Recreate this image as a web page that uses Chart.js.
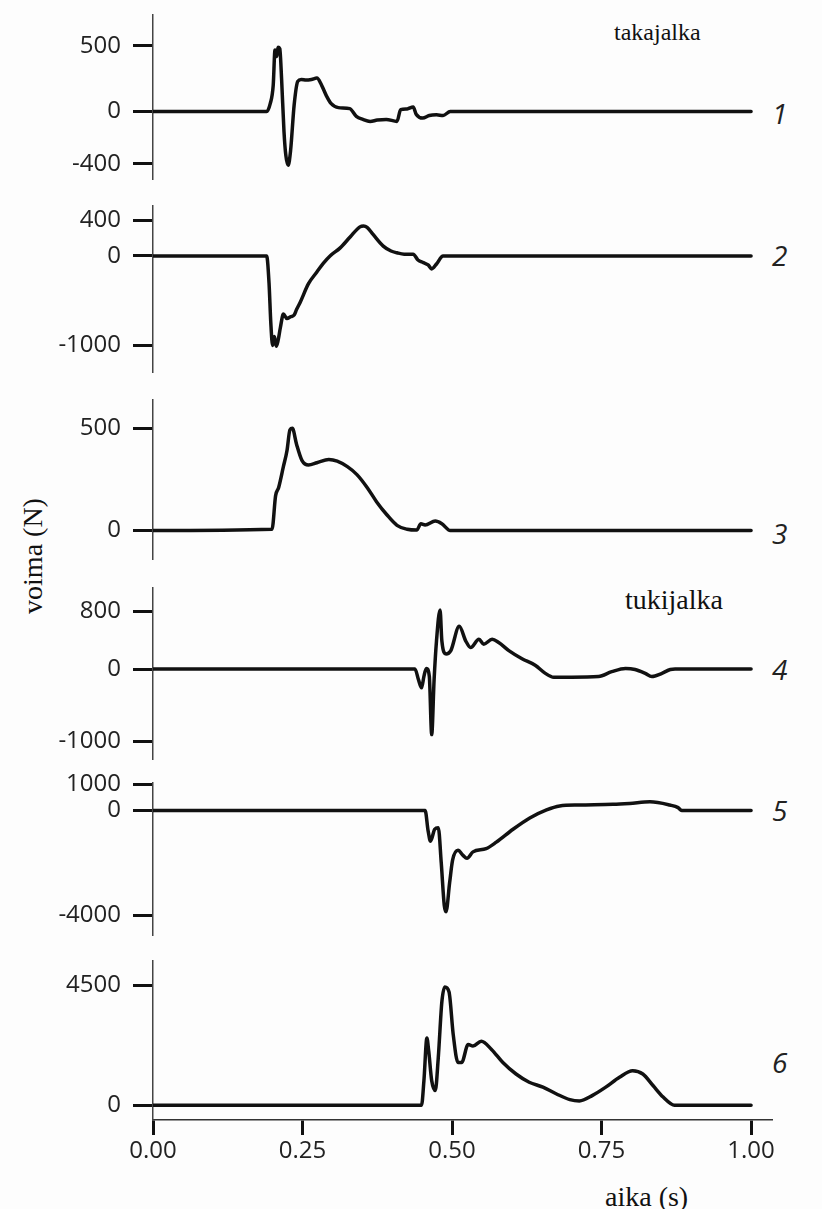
<!DOCTYPE html>
<html>
<head>
<meta charset="utf-8">
<script src="https://cdn.jsdelivr.net/npm/chart.js@4.4.1/dist/chart.umd.min.js"></script>
<style>
  body { margin: 0; background: #fdfdfd; }
  #wrap { position: relative; width: 822px; height: 1209px; overflow: hidden; }
  .panel { position: absolute; left: 0; width: 822px; }
  .lbl { position: absolute; white-space: nowrap; color: #111; line-height: 1; }
  .serif { font-family: "Liberation Serif", "DejaVu Serif", serif; }
  .num { font-family: "Open Sans", sans-serif; font-style: italic; font-size: 28px; color: #222; }
</style>
</head>
<body>
<div id="wrap">
  <div class="lbl serif" style="left:614px;top:20px;font-size:24px;">takajalka</div>
  <div class="lbl serif" style="left:625px;top:586px;font-size:28px;">tukijalka</div>
  <div class="lbl serif" style="left:33px;top:556px;font-size:28px;transform:translate(-50%,-50%) rotate(-90deg);">voima (N)</div>
  <div class="lbl serif" style="left:605px;top:1183px;font-size:28px;">aika (s)</div>
  <div class="lbl num" style="left:772px;top:99px;">1</div>
  <div class="lbl num" style="left:772px;top:241px;">2</div>
  <div class="lbl num" style="left:772px;top:519px;">3</div>
  <div class="lbl num" style="left:772px;top:655px;">4</div>
  <div class="lbl num" style="left:772px;top:796px;">5</div>
  <div class="lbl num" style="left:772px;top:1048px;">6</div>
</div>
<script>
// time axis (s)
const timeTicks = [0, 0.25, 0.5, 0.75, 1.0];

// 1 - takajalka
const time1 = [0, 0.19, 0.196, 0.201, 0.204, 0.207, 0.209, 0.212, 0.215, 0.219, 0.222, 0.226, 0.23, 0.236, 0.242, 0.248, 0.256, 0.265, 0.274, 0.282, 0.29, 0.298, 0.31, 0.329, 0.34, 0.351, 0.363, 0.375, 0.39, 0.408, 0.414, 0.425, 0.435, 0.44, 0.451, 0.462, 0.474, 0.485, 0.497, 1.0];
const force1 = [0, 0, 60, 200, 470, 420, 490, 480, 250, -150, -330, -410, -300, 50, 230, 245, 240, 245, 255, 200, 120, 60, 30, 22, -37, -60, -75, -65, -60, -75, 15, 20, 35, -20, -50, -30, -25, -30, 0, 0];
const ticks1 = [-400, 0, 500];

// 2
const time2 = [0, 0.19, 0.194, 0.197, 0.2, 0.203, 0.206, 0.209, 0.213, 0.218, 0.224, 0.23, 0.236, 0.24, 0.246, 0.26, 0.274, 0.285, 0.296, 0.313, 0.33, 0.346, 0.352, 0.358, 0.368, 0.385, 0.398, 0.408, 0.42, 0.435, 0.443, 0.452, 0.46, 0.466, 0.474, 0.485, 1.0];
const force2 = [0, 0, -300, -750, -1000, -900, -1010, -950, -800, -650, -700, -680, -660, -600, -520, -310, -180, -80, 0, 90, 215, 325, 335, 320, 240, 110, 55, 35, 20, 20, -45, -75, -100, -145, -90, 0, 0];
const ticks2 = [-1000, 0, 400];

// 3
const time3 = [0, 0.199, 0.205, 0.21, 0.218, 0.224, 0.229, 0.233, 0.24, 0.249, 0.26, 0.274, 0.294, 0.308, 0.325, 0.341, 0.358, 0.374, 0.391, 0.408, 0.425, 0.441, 0.448, 0.455, 0.472, 0.483, 0.497, 1.0];
const force3 = [0, 6, 171, 210, 313, 391, 494, 501, 423, 344, 321, 332, 348, 340, 313, 274, 211, 140, 77, 25, 6, 2, 33, 27, 46, 33, 0, 0];
const ticks3 = [0, 500];

// 4 - tukijalka
const time4 = [0, 0.438, 0.444, 0.449, 0.453, 0.457, 0.462, 0.466, 0.47, 0.474, 0.48, 0.483, 0.49, 0.498, 0.512, 0.523, 0.531, 0.545, 0.553, 0.567, 0.578, 0.595, 0.617, 0.639, 0.656, 0.67, 0.7, 0.745, 0.767, 0.79, 0.806, 0.823, 0.834, 0.851, 0.865, 0.873, 1.0];
const force4 = [0, 0, -150, -260, -100, 10, -100, -910, -150, 390, 820, 390, 210, 257, 595, 390, 300, 414, 347, 414, 370, 257, 144, 54, -59, -113, -113, -104, -36, 9, -5, -59, -104, -59, -5, 0, 0];
const ticks4 = [-1000, 0, 800];

// 5
const time5 = [0, 0.455, 0.46, 0.464, 0.471, 0.477, 0.482, 0.487, 0.49, 0.496, 0.501, 0.51, 0.518, 0.525, 0.535, 0.557, 0.574, 0.602, 0.63, 0.658, 0.68, 0.713, 0.769, 0.797, 0.831, 0.864, 0.878, 0.884, 1.0];
const force5 = [0, 0, -778, -1170, -716, -654, -2012, -3617, -3864, -2753, -1889, -1518, -1704, -1827, -1580, -1457, -1210, -716, -284, 25, 173, 210, 235, 272, 333, 210, 111, 0, 0];
const ticks5 = [-4000, 0, 1000];

// 6
const time6 = [0, 0.449, 0.453, 0.458, 0.461, 0.466, 0.472, 0.477, 0.483, 0.488, 0.495, 0.502, 0.51, 0.516, 0.527, 0.535, 0.549, 0.566, 0.585, 0.607, 0.629, 0.652, 0.674, 0.697, 0.713, 0.735, 0.757, 0.78, 0.802, 0.819, 0.836, 0.853, 0.872, 1.0];
const force6 = [0, 0, 922, 2521, 2029, 922, 553, 1784, 3875, 4428, 4244, 2645, 1599, 1599, 2275, 2214, 2398, 2091, 1599, 1169, 861, 677, 431, 209, 160, 369, 677, 1046, 1292, 1169, 738, 307, 0, 0];
const ticks6 = [0, 4500];

const PAD = 24;
const X_AXIS_H = 60;
const INK = "#111";
const tickFont = { family: "'Open Sans', sans-serif", size: 24 };

// axis line extents (page px) and value ranges per panel
const panels = [
  { time: time1, force: force1, ticks: ticks1, min: -519, max: 741, top: 12, bottom: 182 },
  { time: time2, force: force2, ticks: ticks2, min: -1304, max: 565, top: 203, bottom: 375 },
  { time: time3, force: force3, ticks: ticks3, min: -143, max: 643, top: 397, bottom: 562 },
  { time: time4, force: force4, ticks: ticks4, min: -1257, max: 1135, top: 585, bottom: 762 },
  { time: time5, force: force5, ticks: ticks5, min: -4778, max: 1074, top: 780, bottom: 938 },
  { time: time6, force: force6, ticks: ticks6, min: -553, max: 5424, top: 958, bottom: 1120 },
];

const wrap = document.getElementById("wrap");

panels.forEach((p, idx) => {
  const last = idx === panels.length - 1;
  const h = (p.bottom - p.top) + PAD + (last ? X_AXIS_H : PAD);
  const box = document.createElement("div");
  box.className = "panel";
  box.style.top = (p.top - PAD) + "px";
  box.style.height = h + "px";
  const canvas = document.createElement("canvas");
  canvas.width = 822;
  canvas.height = h;
  box.appendChild(canvas);
  wrap.appendChild(box);

  const xScale = {
    type: "linear",
    min: 0,
    max: 1.035,
    display: last,
    afterBuildTicks: (s) => { s.ticks = timeTicks.map((v) => ({ value: v })); },
    ticks: {
      callback: (v) => Number(v).toFixed(2),
      font: tickFont,
      color: "#222",
      padding: 2,
      maxRotation: 0,
      autoSkip: false,
    },
    grid: { drawOnChartArea: false, tickLength: 15, tickWidth: 3, tickColor: INK },
    border: { display: true, color: "#333", width: 1.5 },
  };
  if (last) {
    xScale.afterFit = (s) => { s.height = X_AXIS_H; };
  }

  new Chart(canvas.getContext("2d"), {
    type: "line",
    data: {
      datasets: [{
        data: p.time.map((t, i) => ({ x: t, y: p.force[i] })),
        borderColor: INK,
        borderWidth: 3.5,
        pointRadius: 0,
        cubicInterpolationMode: "monotone",
        borderJoinStyle: "round",
        borderCapStyle: "round",
        fill: false,
      }],
    },
    options: {
      responsive: false,
      animation: false,
      layout: { padding: { top: PAD, bottom: last ? 0 : PAD, left: 0, right: 50 } },
      plugins: { legend: { display: false }, tooltip: { enabled: false } },
      scales: {
        x: xScale,
        y: {
          min: p.min,
          max: p.max,
          afterBuildTicks: (s) => { s.ticks = p.ticks.map((v) => ({ value: v })); },
          afterFit: (s) => { s.width = 153; },
          ticks: {
            callback: (v) => String(v),
            font: tickFont,
            color: "#222",
            padding: 12,
          },
          grid: { drawOnChartArea: false, tickLength: 20, tickWidth: 3, tickColor: INK },
          border: { display: true, color: "#444", width: 1.5 },
        },
      },
    },
  });
});
</script>
</body>
</html>
